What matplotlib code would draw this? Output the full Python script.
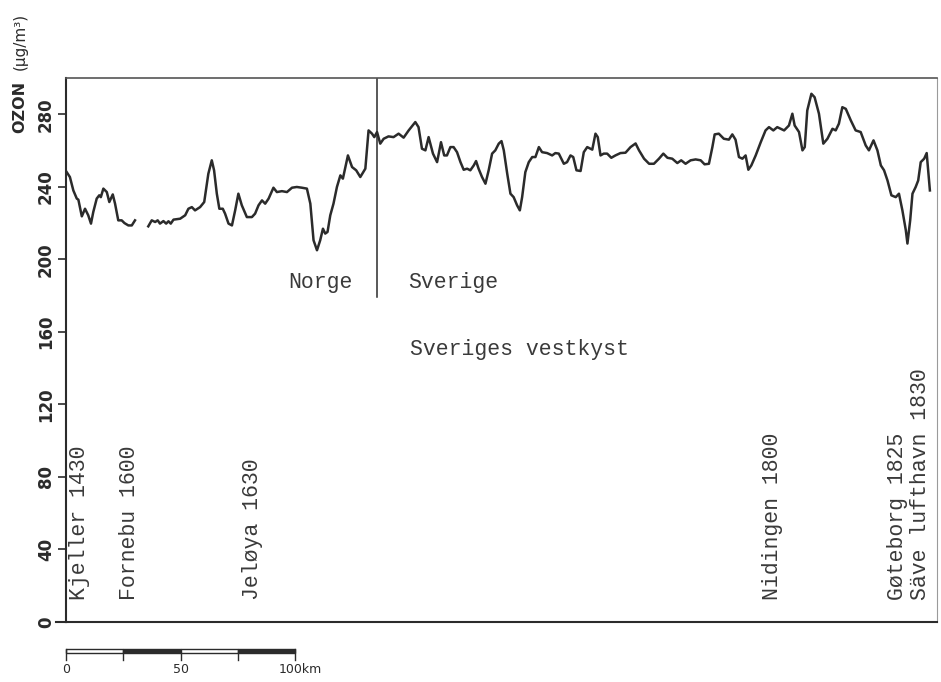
import matplotlib
matplotlib.use("Agg")
import matplotlib.pyplot as plt
from matplotlib.patches import Rectangle

# Ozone along the coast, distance in km from Kjeller
seg1_km = [0.3, 1.7, 3.2, 4.7, 5.4, 6.9, 8.3, 9.7, 10.9, 11.9, 13.4, 14.5, 15.2,
           16.3, 17.8, 18.9, 20.4, 21.4, 22.8, 24.3, 25.5, 27.2, 28.7, 30.1]
seg1_o3 = [248.1, 245.4, 238.0, 233.5, 232.9, 223.7, 227.9, 224.3, 219.7, 226.1,
           233.5, 235.3, 234.3, 239.0, 237.1, 231.6, 235.8, 230.7, 221.5, 221.5,
           220.0, 218.7, 218.7, 221.5]

seg2_km = [35.9, 37.4, 38.9, 40.0, 41.0, 42.5, 43.7, 44.7, 45.7, 46.9, 49.8, 52.0,
           53.4, 54.9, 56.3, 58.5, 60.3, 62.1, 63.6, 64.6, 65.8, 66.9, 68.4, 69.4,
           70.9, 72.4, 73.8, 75.2, 76.7, 78.9, 81.1, 82.5, 84.0, 85.5, 86.9, 88.4,
           90.5, 92.0, 94.2, 96.4, 98.6, 100.7, 102.9, 105.1, 106.6, 108.0, 109.5,
           110.9, 112.1, 113.1, 114.1, 115.3, 116.7, 118.2, 119.7, 120.8, 123.0,
           124.8, 126.6, 128.4, 130.6, 132.0, 133.5, 134.5, 135.7, 137.1, 138.6,
           140.7, 142.9, 145.1, 147.3, 149.5, 152.4, 153.8, 155.3, 156.8, 158.2,
           160.1, 161.9, 163.6, 165.0, 166.2, 167.7, 169.1, 170.6, 172.1, 173.5,
           175.0, 176.4, 177.9, 178.9, 180.0, 181.5, 183.0, 184.4, 185.9, 187.3,
           188.8, 190.0, 191.0, 192.5, 193.9, 195.3, 196.8, 198.0, 199.0, 200.4,
           201.9, 203.4, 204.8, 206.3, 207.7, 209.9, 212.1, 213.5, 215.0, 217.2,
           218.6, 220.1, 221.3, 222.7, 224.5, 225.9, 227.4, 229.6, 231.0, 232.0,
           233.2, 234.6, 236.1, 237.9, 239.7, 241.9, 244.1, 246.3, 248.5, 250.0,
           252.2, 254.4, 256.5, 258.7, 260.6, 262.4, 264.5, 266.7, 268.4, 270.3,
           272.5, 274.7, 276.9, 278.6, 280.5, 282.0, 283.0, 284.8, 287.0, 289.2,
           290.7, 292.1, 293.6, 295.1, 296.5, 297.7, 299.0, 300.9, 303.1, 305.2,
           306.7, 308.6, 310.3, 311.8, 313.3, 315.4, 316.9, 317.9, 319.8, 321.3,
           322.3, 323.4, 325.2, 326.6, 328.5, 330.4, 332.2, 334.4, 335.8, 337.2,
           338.7, 340.2, 342.4, 344.5, 346.7, 348.9, 350.3, 352.3, 354.0, 355.5,
           356.9, 358.4, 360.1, 362.0, 363.4, 364.9, 366.4, 367.1, 368.3, 369.3,
           370.7, 371.8, 372.9, 374.4, 375.5, 376.9]
seg2_o3 = [218.2, 221.5, 220.6, 221.5, 219.7, 221.1, 219.7, 221.0, 219.7, 221.9,
           222.4, 224.3, 227.9, 228.8, 227.0, 228.8, 231.6, 247.2, 254.6, 249.1,
           236.2, 227.9, 227.9, 225.2, 219.7, 218.7, 227.0, 236.2, 229.8, 223.3,
           223.3, 225.2, 229.8, 232.5, 230.7, 233.5, 239.5, 237.1, 237.6, 237.1,
           239.5, 239.9, 239.5, 239.0, 230.7, 210.5, 205.0, 210.5, 216.9, 214.2,
           215.1, 224.3, 230.7, 239.9, 246.3, 244.5, 257.3, 250.9, 249.1, 245.4,
           250.0, 271.1, 269.3, 267.4, 270.2, 263.8, 266.5, 267.8, 267.4, 269.3,
           267.1, 271.1, 275.7, 272.9, 261.0, 260.1, 267.4, 258.3, 253.6, 264.6,
           257.3, 257.3, 261.9, 261.9, 259.1, 253.6, 249.4, 250.0, 249.1, 251.8,
           254.2, 250.0, 245.4, 241.7, 249.1, 258.3, 260.1, 263.8, 265.2, 260.1,
           247.2, 236.2, 234.3, 229.8, 227.0, 234.3, 248.1, 253.6, 256.4, 256.4,
           261.9, 259.1, 258.6, 257.3, 258.6, 258.3, 252.7, 253.6, 257.3, 256.4,
           249.1, 248.7, 259.1, 261.9, 260.5, 269.3, 267.4, 257.3, 258.3, 258.3,
           256.0, 257.3, 258.6, 258.8, 261.9, 263.9, 260.1, 255.5, 252.7, 252.7,
           255.5, 258.3, 256.0, 255.5, 253.1, 254.6, 252.7, 254.6, 255.1, 254.6,
           252.4, 252.7, 261.9, 268.9, 269.3, 266.5, 266.0, 268.9, 266.0, 256.4,
           255.5, 257.3, 249.4, 251.8, 257.3, 264.6, 271.1, 272.9, 271.1, 272.9,
           272.0, 271.1, 273.8, 280.3, 273.8, 270.2, 260.1, 261.9, 282.1, 291.3,
           289.4, 280.3, 263.8, 266.5, 272.0, 271.1, 274.8, 283.9, 283.0, 276.6,
           271.1, 270.2, 262.8, 260.1, 265.6, 260.1, 251.8, 249.1, 243.5, 235.3,
           234.3, 236.2, 227.0, 216.0, 208.7, 221.5, 236.2, 239.9, 243.5, 253.6,
           255.5, 258.6, 238.0]

# Measuring stations: (label, km)
station_names = ["Kjeller 1430", "Fornebu 1600", "Jeløya 1630",
                 "Nidingen 1800", "Gøteborg 1825", "Säve lufthavn 1830"]
station_km = [6.1, 27.9, 81.2, 308.3, 362.9, 372.9]

border_km = 135.8
y_ticks = [0, 40, 80, 120, 160, 200, 240, 280]
scale_km = [0, 25, 50, 75, 100]

ink = "#2b2b2b"
text_ink = "#3a3a3a"
mono = ["Liberation Mono", "DejaVu Sans Mono"]

fig = plt.figure(figsize=(9.41, 6.82), dpi=100)
ax = fig.add_axes([66 / 941, 1 - 622 / 682, 871 / 941, 544 / 682])
ax.set_xlim(0, 380)
ax.set_ylim(0, 300)

ax.plot(seg1_km, seg1_o3, color=ink, lw=1.8, solid_joinstyle="round")
ax.plot(seg2_km, seg2_o3, color=ink, lw=1.8, solid_joinstyle="round")

# Norway / Sweden border
ax.plot([border_km, border_km], [179, 300], color=ink, lw=1.1)
ax.text(124.9, 187, "Norge", family=mono, fontsize=15.5, color=text_ink,
        ha="right", va="center")
ax.text(149.3, 187, "Sverige", family=mono, fontsize=15.5, color=text_ink,
        ha="left", va="center")
ax.text(150.2, 150, "Sveriges vestkyst", family=mono, fontsize=15.5,
        color=text_ink, ha="left", va="center")

for name, km in zip(station_names, station_km):
    ax.text(km, 12, name, family=mono, fontsize=15.5, color=text_ink,
            rotation=90, ha="center", va="bottom")

# Axes frame
for side in ("left", "bottom"):
    ax.spines[side].set_color(ink)
    ax.spines[side].set_linewidth(1.5)
ax.spines["top"].set_color("#555555")
ax.spines["top"].set_linewidth(1.2)
ax.spines["right"].set_color("#9a9a9a")
ax.spines["right"].set_linewidth(0.8)
ax.plot([-0.012, 0], [0, 0], transform=ax.transAxes, color=ink, lw=1.5,
        clip_on=False)

ax.set_xticks([])
ax.set_yticks(y_ticks)
ax.set_yticklabels([str(v) for v in y_ticks], rotation=90, va="center",
                   fontsize=12, fontweight="bold", color=ink)
ax.tick_params(axis="y", direction="out", length=6, width=1.2, color=ink, pad=2)

# Axis title
fig.text(20 / 941, 1 - 107 / 682, "OZON", rotation=90, ha="center", va="center",
         fontsize=11.5, fontweight="bold", color=ink)
fig.text(20 / 941, 1 - 41 / 682, "(μg/m³)", rotation=90, ha="center",
         va="center", fontsize=11, color=ink)

# Distance scale bar below the axes
trans = ax.get_xaxis_transform()
bar_lo, bar_hi = -0.057, -0.0496
for i in range(len(scale_km) - 1):
    face = "white" if i % 2 == 0 else ink
    ax.add_patch(Rectangle((scale_km[i], bar_lo), scale_km[i + 1] - scale_km[i],
                           bar_hi - bar_lo, transform=trans, facecolor=face,
                           edgecolor=ink, lw=1.0, clip_on=False))
for km in scale_km:
    top = bar_hi if km in (0, 100) else bar_lo
    ax.plot([km, km], [top, -0.07], transform=trans, color=ink, lw=1.0,
            clip_on=False)
ax.text(0, -0.088, "0", transform=trans, ha="center", va="center", fontsize=9,
        color=ink)
ax.text(50, -0.088, "50", transform=trans, ha="center", va="center", fontsize=9,
        color=ink)
ax.text(93, -0.088, "100km", transform=trans, ha="left", va="center",
        fontsize=9, color=ink)

fig.savefig("out.png", dpi=100)
